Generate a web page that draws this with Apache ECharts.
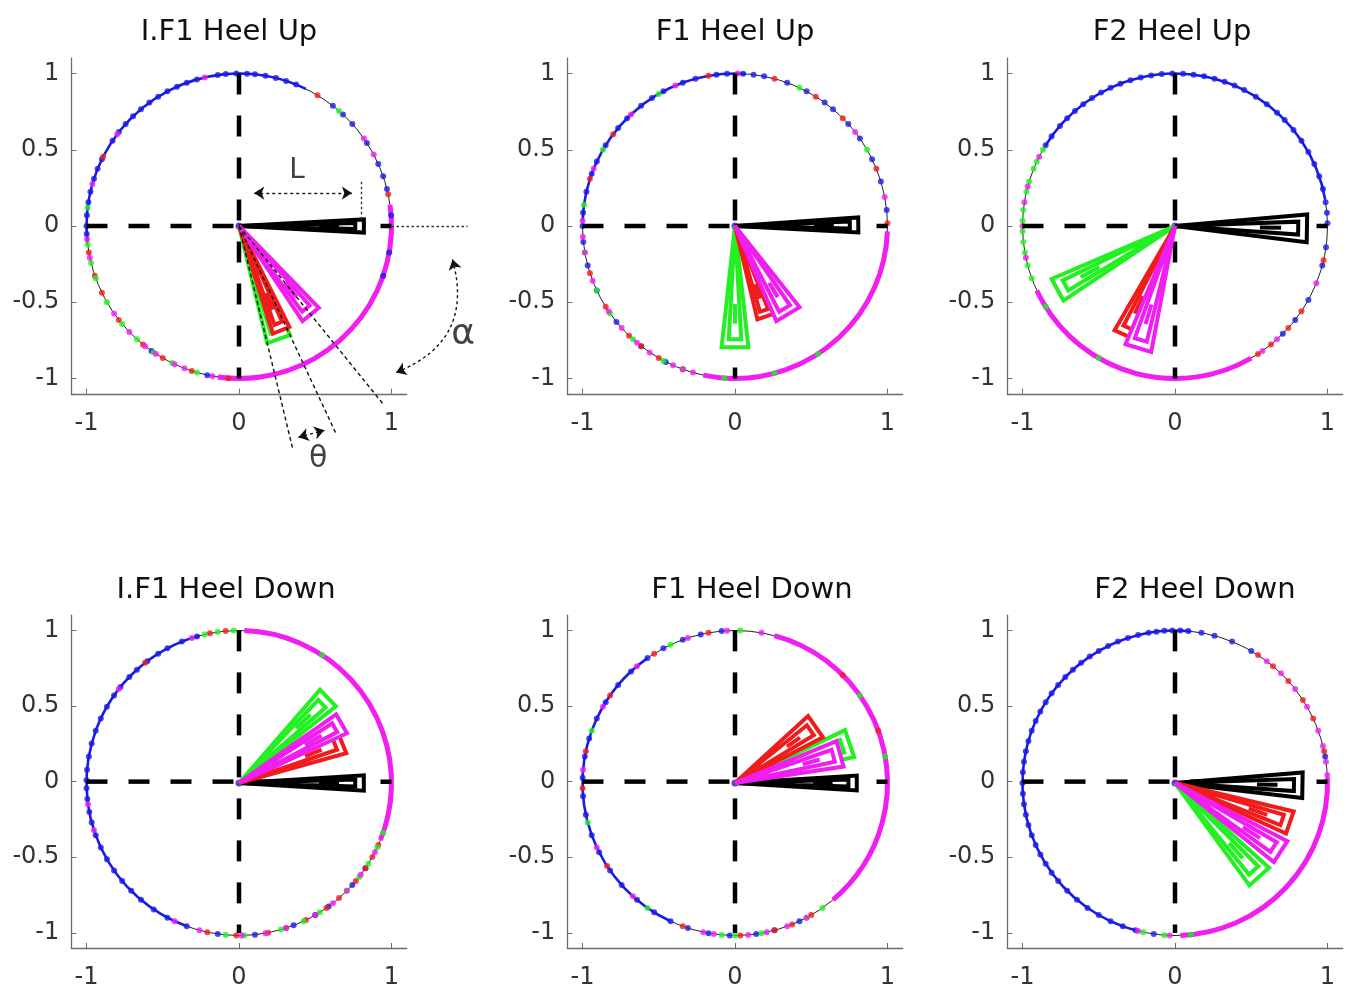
<!DOCTYPE html>
<html><head><meta charset="utf-8">
<script src="https://cdn.jsdelivr.net/npm/echarts@6/dist/echarts.min.js"></script>
<style>html,body{margin:0;padding:0;background:#fff}#c{width:1352px;height:990px}</style>
</head><body><div id="c"></div>
<script>
// ---------------- data ----------------
const panelTitles = ['I.F1 Heel Up', 'F1 Heel Up', 'F2 Heel Up', 'I.F1 Heel Down', 'F1 Heel Down', 'F2 Heel Down'];
const xTicks = [-1, 0, 1];
const yTicks = [-1, -0.5, 0, 0.5, 1];

// wedge order per panel: black, red, green, magenta
const wedgeAngle = [
  [0, -68, -70.7, -51],
  [0.5, -71, -90, -59],
  [-1, -114.6, -151.5, -106.7],
  [0, 22, 43.7, 30],
  [0, 35, 19, 15.5],
  [-1, -19, -48, -33]
];
const wedgeWidth = [
  [6, 9, 11.5, 10.5],
  [7, 11, 12.6, 15],
  [12, 11, 10.5, 12],
  [7, 13, 10.6, 10.5],
  [7, 15, 13.4, 13.8],
  [11.5, 11, 12, 11.3]
];
const wedgeLength = [
  [0.82, 0.74, 0.79, 0.75],
  [0.81, 0.63, 0.80, 0.68],
  [0.87, 0.79, 0.88, 0.84],
  [0.82, 0.73, 0.81, 0.78],
  [0.80, 0.65, 0.80, 0.72],
  [0.84, 0.80, 0.83, 0.83]
];

// phase dots on the unit circle (degrees)
const blueDots = [
  [4, 14, 19, 24, 33, 42, 47, 52, 68, 72, 76, 80, 84, 87, 91, 95, 98, 106, 110, 114, 118, 122, 126, 130, 134, 138, 142, 146, 154, 158, 162, 167, 171, 176, 180, 183, 235, 258, 341, 350],
  [6, 17, 26, 35, 42, 50, 54, 62, 70, 79, 83, 87, 93, 97, 105, 110, 118, 123, 128, 135, 140, 148, 155, 160, 167, 175, 180, 186, 195, 205, 219, 232, 243],
  [1, 5, 9, 14, 19, 24, 29, 34, 39, 44, 48, 53, 58, 63, 67, 71, 75, 79, 83, 87, 91, 95, 99, 103, 107, 111, 115, 119, 123, 127, 131, 135, 139, 144, 148, 315, 322, 331, 345, 352],
  [106, 112, 118, 122, 127, 132, 136, 141, 145, 150, 155, 160, 165, 170, 175, 179, 182, 186, 191, 195, 200, 205, 210, 215, 220, 225, 230, 236, 242, 250, 262, 276, 291, 300, 306, 318, 326],
  [95, 103, 110, 118, 125, 133, 140, 148, 155, 163, 170, 178, 185, 192, 200, 207, 215, 222, 230, 238, 245, 252, 260, 268, 278, 285, 295],
  [10, 60, 68, 75, 80, 85, 88, 91, 94, 97, 100, 104, 108, 112, 116, 120, 124, 128, 132, 136, 140, 144, 148, 152, 156, 160, 164, 168, 172, 176, 180, 184, 188, 192, 196, 200, 204, 208, 212, 216, 220, 225, 230, 235, 240, 245, 250, 255, 262]
];
const redDots = [
  [12, 59, 153, 190, 199, 206, 218, 231, 240, 252, 266],
  [1, 22, 45, 58, 75, 100, 143, 162, 198, 212, 226, 232, 240, 250],
  [303, 309, 318, 326, 347],
  [95, 101, 128, 258, 269, 281, 288, 296, 305, 311, 320, 326, 331, 336],
  [20, 45, 100, 122, 145, 168, 182, 213, 250, 272, 285, 292, 300],
  [12, 25, 33, 42, 50, 57]
];
const greenDots = [
  [49, 173, 187, 194, 200, 210, 220, 228, 236, 244, 254],
  [30, 65, 120, 150, 172, 190, 205, 215, 228, 242, 250, 266, 285, 303],
  [150, 155, 158, 163, 167, 174, 178, 182, 186, 190, 195, 200, 212, 240],
  [57, 92, 98, 103, 265, 272, 286, 295, 302, 315, 322, 328, 335, 341],
  [10, 35, 88, 115, 160, 195, 235, 265, 270, 280, 298, 305],
  [258, 266, 276]
];
const magentaDots = [
  [28, 35, 103, 143, 164, 185, 192, 215, 224, 232, 237, 245, 249, 260],
  [11, 38, 89, 113, 133, 158, 178, 184, 190, 201, 214, 222, 230, 236, 246, 250, 254],
  [153, 165, 171, 180, 192, 305, 312, 338],
  [108, 142, 188, 198, 245, 255, 271, 280, 288, 300, 308, 315, 323, 333],
  [80, 93, 108, 130, 150, 175, 205, 228, 258, 262, 275, 282, 290, 298],
  [3, 8, 14, 20, 30, 38, 46, 53, 256, 268]
];
// dense stretches [from, to] degrees
const magentaArcs = [
  [[-98, 8]],
  [[258, 358]],
  [[205, 300]],
  [[-22, 88]],
  [[-50, 75]],
  [[272, 362]]
];
const blueArcs = [
  [[64, 186]],
  [[86, 178]],
  [[10, 148]],
  [[105, 250]],
  [[125, 245]],
  [[84, 256]]
];

// axis cross lines
const crossH = [[-1, 0], [1, 0]];
const crossV = [[0, 1], [0, -1]];

// annotations on the first panel
const lArrow = [[0.10, 0.216], [0.74, 0.216]];
const lTick = [[0.80, 0.29], [0.80, 0.04]];
const alphaRef = [[1.0, 0], [1.5, 0]];
const alphaArc = [[1.40, -0.22], [1.03, -0.96]];
const thetaArrow = [[0.39, -1.385], [0.56, -1.34]];
const rayLength = 1.5;
const annoText = [['L', 0.38, 0.36, 28], ['θ', 0.52, -1.53, 30], ['α', 1.47, -0.715, 36]];

// ---------------- styles / layout ----------------
const COL = { black: '#000000', red: '#f21b1b', green: '#22f022', magenta: '#f01ef0', blue: '#1a1ae6' };
const wedgeColors = [COL.black, COL.red, COL.green, COL.magenta];
const drawOrder = [0, 2, 1, 3];
const U = 152.5;
const colX = [239, 735, 1175];
const rowY = [226, 783];
const titlePos = [[229, 30], [735, 30], [1172, 30], [226, 588], [752, 588], [1195, 588]];
const FONT = 'DejaVu Sans';

function norm(a) { return ((a % 360) + 360) % 360; }

function wedgeRender(params, api) {
  const a = api.value(0), w = api.value(1), L = api.value(2);
  const c = api.visual('color');
  const P = (r, ang) => api.coord([r, ang]);
  const tri = (len, wid) => [P(0, a), P(len, a + wid / 2), P(len, a - wid / 2)];
  const d1 = P(0.64 * L, a), d2 = P(0.80 * L, a);
  const st = { fill: '#fff', stroke: c, lineWidth: 4, lineJoin: 'miter', miterLimit: 3 };
  return {
    type: 'group', children: [
      { type: 'polygon', shape: { points: tri(L, w) }, style: st },
      { type: 'polygon', shape: { points: tri(0.93 * L, 0.5 * w) }, style: st },
      { type: 'line', shape: { x1: d1[0], y1: d1[1], x2: d2[0], y2: d2[1] }, style: { stroke: c, lineWidth: 4 } }
    ]
  };
}
function makeArcRender(color, width) {
  return function (params, api) {
    const cs = params.coordSys;
    const a1 = api.value(0), a2 = api.value(1);
    return {
      type: 'arc',
      shape: { cx: cs.cx, cy: cs.cy, r: cs.r, startAngle: -a2 * Math.PI / 180, endAngle: -a1 * Math.PI / 180, clockwise: true },
      style: { stroke: color, lineWidth: width, fill: null }
    };
  };
}

const option = {
  animation: false, backgroundColor: '#fff',
  title: [], grid: [], xAxis: [], yAxis: [], polar: [], angleAxis: [], radiusAxis: [], series: []
};

for (let p = 0; p < 6; p++) {
  const cx = colX[p % 3], cy = rowY[Math.floor(p / 3)];
  option.title.push({
    text: panelTitles[p], left: titlePos[p][0], top: titlePos[p][1] - 12, textAlign: 'center', padding: 0,
    textStyle: { fontFamily: FONT, fontSize: 29, fontWeight: 'normal', color: '#111' }
  });
  option.grid.push({ left: cx - 1.1 * U, top: cy - 1.1 * U, width: 2.2 * U, height: 2.2 * U });
  const axisCommon = {
    gridIndex: p, type: 'value', min: -1.1, max: 1.1,
    axisLine: { show: true, onZero: false, lineStyle: { color: '#6b6b6b', width: 1.3 } },
    splitLine: { show: false }
  };
  option.xAxis.push(Object.assign({}, axisCommon, {
    position: 'bottom',
    axisTick: { show: true, inside: true, length: 5, customValues: xTicks, lineStyle: { color: '#6b6b6b' } },
    axisLabel: { customValues: xTicks, margin: 18, fontSize: 24, color: '#333', fontFamily: FONT }
  }));
  option.yAxis.push(Object.assign({}, axisCommon, {
    position: 'left',
    axisTick: { show: true, inside: true, length: 5, customValues: yTicks, lineStyle: { color: '#6b6b6b' } },
    axisLabel: { customValues: yTicks, margin: 12, fontSize: 24, color: '#333', fontFamily: FONT }
  }));
  option.polar.push({ center: [cx, cy], radius: U });
  option.angleAxis.push({
    polarIndex: p, type: 'value', min: 0, max: 360, startAngle: 0, clockwise: false,
    axisLine: { show: true, lineStyle: { color: '#222', width: 1 } },
    axisTick: { show: false }, axisLabel: { show: false }, splitLine: { show: false }
  });
  option.radiusAxis.push({ polarIndex: p, type: 'value', min: 0, max: 1, show: false });

  option.series.push({
    type: 'custom', coordinateSystem: 'polar', polarIndex: p, silent: true, z: 2,
    data: blueArcs[p], renderItem: makeArcRender(COL.blue, 2.6)
  });
  option.series.push({
    type: 'custom', coordinateSystem: 'polar', polarIndex: p, silent: true, z: 2,
    data: magentaArcs[p], renderItem: makeArcRender(COL.magenta, 5)
  });
  [[blueDots, COL.blue], [redDots, COL.red], [greenDots, COL.green], [magentaDots, COL.magenta]].forEach(([arr, color]) => {
    option.series.push({
      type: 'scatter', coordinateSystem: 'polar', polarIndex: p, silent: true, z: 3,
      symbolSize: 6, itemStyle: { color: color },
      data: arr[p].map(a => [1, norm(a)])
    });
  });
  option.series.push({
    type: 'scatter', coordinateSystem: 'polar', polarIndex: p, silent: true, z: 3,
    symbolSize: 7, itemStyle: { color: COL.blue }, data: [[0, 0]]
  });
  [crossH, crossV].forEach(seg => {
    option.series.push({
      type: 'line', xAxisIndex: p, yAxisIndex: p, silent: true, z: 4, symbol: 'none',
      data: seg, lineStyle: { color: '#000', width: 4.5, type: [21, 21] }
    });
  });
  option.series.push({
    type: 'custom', coordinateSystem: 'polar', polarIndex: p, silent: true, z: 5,
    renderItem: wedgeRender,
    data: drawOrder.map(k => ({
      value: [norm(wedgeAngle[p][k]), wedgeWidth[p][k], wedgeLength[p][k]],
      itemStyle: { color: wedgeColors[k] }
    }))
  });
}

// annotations (panel 1)
const rayAngles = [
  wedgeAngle[0][2] - wedgeWidth[0][2] / 2,
  wedgeAngle[0][2] + wedgeWidth[0][2] / 2,
  wedgeAngle[0][3]
];
const rays = rayAngles.map(a => ({
  coords: [[0, 0], [rayLength * Math.cos(a * Math.PI / 180), rayLength * Math.sin(a * Math.PI / 180)]]
}));
option.series.push({
  type: 'lines', coordinateSystem: 'cartesian2d', xAxisIndex: 0, yAxisIndex: 0, clip: false, silent: true, z: 6,
  symbol: 'none', lineStyle: { color: '#111', width: 1.4, type: [4, 3], opacity: 1 },
  data: rays
});
option.series.push({
  type: 'lines', coordinateSystem: 'cartesian2d', xAxisIndex: 0, yAxisIndex: 0, clip: false, silent: true, z: 6,
  symbol: 'none', lineStyle: { color: '#333', width: 1.4, type: [2.5, 2.5], opacity: 1 },
  data: [{ coords: lTick }, { coords: alphaRef }]
});
option.series.push({
  type: 'lines', coordinateSystem: 'cartesian2d', xAxisIndex: 0, yAxisIndex: 0, clip: false, silent: true, z: 6,
  symbol: ['arrow', 'arrow'], symbolSize: 10, lineStyle: { color: '#111', width: 1.4, type: [3, 3], opacity: 1 },
  data: [{ coords: lArrow }, { coords: thetaArrow }, { coords: alphaArc, lineStyle: { curveness: 0.45 } }]
});
option.series.push({
  type: 'scatter', xAxisIndex: 0, yAxisIndex: 0, clip: false, silent: true, z: 7,
  symbolSize: 1, itemStyle: { color: 'transparent' },
  label: { show: true, position: 'inside', formatter: '{b}', color: '#111', fontFamily: FONT },
  data: annoText.map(t => ({ name: t[0], value: [t[1], t[2]], label: { fontSize: t[3] } }))
});

const chart = echarts.init(document.getElementById('c'), null, { renderer: 'canvas' });
chart.setOption(option);
</script></body></html>
